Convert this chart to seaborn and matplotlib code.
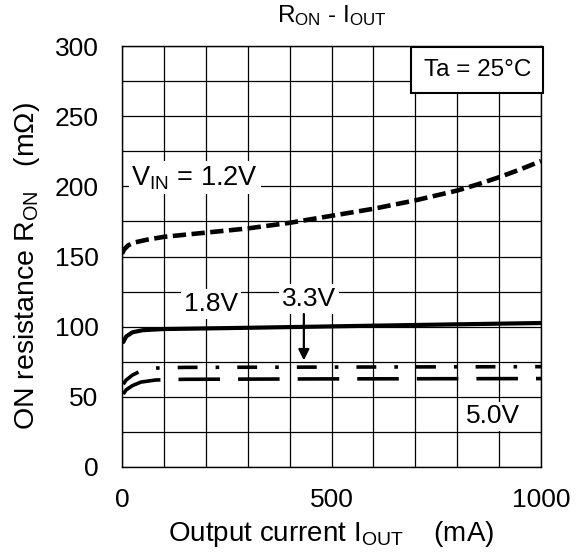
import numpy as np
import pandas as pd
import matplotlib
matplotlib.use('Agg')
import matplotlib.pyplot as plt
import seaborn as sns
from matplotlib.ticker import MultipleLocator, FixedLocator

# Values (I_OUT in mA, R_ON in mOhm)
iout_12 = [0, 5, 15, 30, 60, 100, 200, 300, 400, 500, 600, 700, 750, 800, 850, 900, 950, 1000]
ron_12 = [152, 155, 158, 160, 162, 164, 167, 170, 174, 179, 184, 190, 193.5, 197, 201.5, 206.5, 212, 218]

iout_18 = [3, 10, 25, 50, 100, 300, 500, 700, 1000]
ron_18 = [89, 93, 96, 97.5, 98.3, 99.2, 100.2, 101.2, 102.6]

iout_33 = [3, 10, 25, 45, 80, 150, 500, 1000]
ron_33 = [59, 62, 65.5, 68.5, 70.5, 71, 71.2, 71.5]

iout_50 = [3, 10, 25, 45, 80, 150, 500, 1000]
ron_50 = [52, 55, 58, 60.5, 62, 62.5, 62.8, 63]

x_ticks = [0, 500, 1000]
y_ticks = [0, 50, 100, 150, 200, 250, 300]

sns.set_style('white')
plt.rcParams['font.family'] = ['Liberation Sans', 'DejaVu Sans']
plt.rcParams['mathtext.fontset'] = 'custom'
plt.rcParams['mathtext.rm'] = 'Liberation Sans'
plt.rcParams['mathtext.it'] = 'Liberation Sans'
for k in ['text.color', 'axes.labelcolor', 'xtick.color', 'ytick.color']:
    plt.rcParams[k] = 'black'

fig = plt.figure(figsize=(5.84, 5.58), dpi=100)
ax = fig.add_axes([122 / 584, 91 / 558, 419 / 584, 421 / 558])

# grid drawn first so the labels' white boxes can hide it
ax.set_xlim(0, 1000)
ax.set_ylim(0, 300)
ax.xaxis.set_major_locator(FixedLocator(x_ticks))
ax.xaxis.set_minor_locator(MultipleLocator(100))
ax.yaxis.set_major_locator(FixedLocator(y_ticks))
ax.yaxis.set_minor_locator(MultipleLocator(25))
ax.grid(which='both', color='black', lw=0.9)
ax.set_axisbelow(True)
ax.tick_params(which='both', length=0, labelsize=19)
ax.tick_params(axis='x', pad=15)
ax.tick_params(axis='y', pad=17)
for s in ax.spines.values():
    s.set_color('black')
    s.set_linewidth(1)

sns.lineplot(x=iout_12, y=ron_12, ax=ax, color='black', lw=3.3,
             linestyle=(0, (2.9, 1.2)))
sns.lineplot(x=iout_18, y=ron_18, ax=ax, color='black', lw=3)
sns.lineplot(x=iout_33, y=ron_33, ax=ax, color='black', lw=2.6,
             linestyle=(0, (5.5, 5.0, 1.0, 5.0)))
sns.lineplot(x=iout_50, y=ron_50, ax=ax, color='black', lw=2.6,
             linestyle=(0, (11.5, 5.0)))

ax.set_xlim(0, 1000)
ax.set_ylim(0, 300)

wbox = dict(facecolor='white', edgecolor='none', pad=2)
ax.text(22, 206, r'V$_{\mathregular{IN}}$ = 1.2V', fontsize=19.5, ha='left', va='center', bbox=wbox)
ax.text(213, 116, '1.8V', fontsize=19, ha='center', va='center', bbox=wbox)
ax.text(447, 120, '3.3V', fontsize=19, ha='center', va='center', bbox=wbox)
ax.text(886, 36, '5.0V', fontsize=19, ha='center', va='center', bbox=wbox)
ax.annotate('', xy=(434, 74), xytext=(434, 111),
            arrowprops=dict(arrowstyle='-|>', color='black', lw=1.6, mutation_scale=16))
ax.text(848, 283, 'Ta = 25°C', fontsize=17.5, ha='center', va='center',
        bbox=dict(facecolor='white', edgecolor='black', lw=1.5, boxstyle='square,pad=0.5'))

ax.set_title(r'R$_{\mathregular{ON}}$ - I$_{\mathregular{OUT}}$', fontsize=17.5, pad=17)
ax.set_xlabel(r'Output current I$_{\mathregular{OUT}}$    (mA)', fontsize=20, labelpad=5)
ax.set_ylabel(r'ON resistance R$_{\mathregular{ON}}$   (m$\Omega$)', fontsize=20.5)
ax.yaxis.set_label_coords(-0.19, 0.477)

fig.savefig('out.png', dpi=100)
